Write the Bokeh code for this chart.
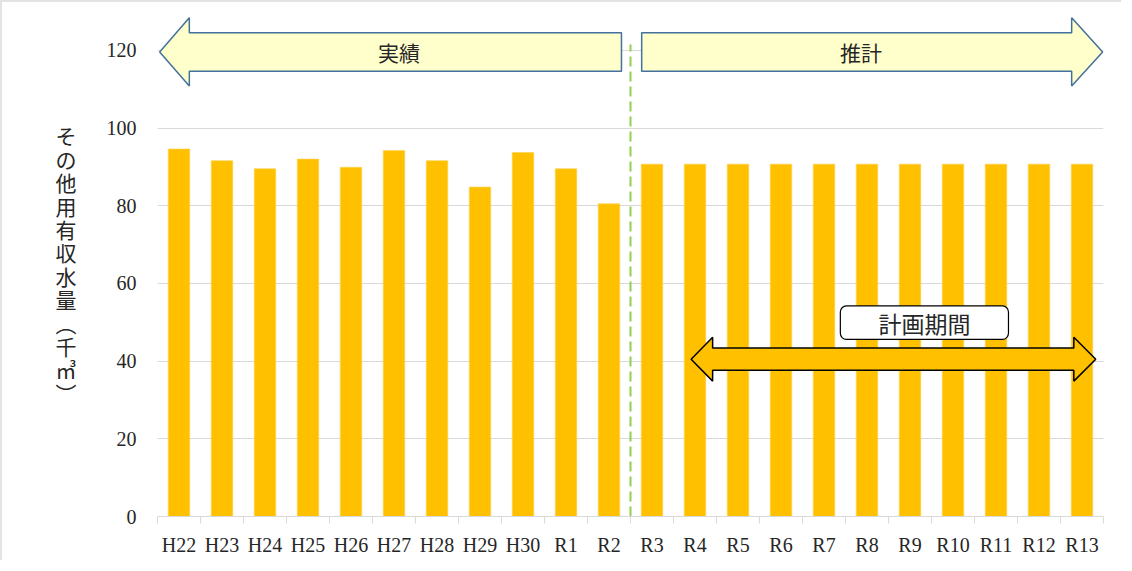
from bokeh.plotting import figure
from bokeh.models import FixedTicker, Range1d
from bokeh.embed import file_html
from bokeh.resources import INLINE
from bokeh.core.properties import value

# ---- data ----
categories = ["H22", "H23", "H24", "H25", "H26", "H27", "H28", "H29", "H30", "R1", "R2",
              "R3", "R4", "R5", "R6", "R7", "R8", "R9", "R10", "R11", "R12", "R13"]
values = [94.6, 91.6, 89.5, 92.0, 89.9, 94.2, 91.6, 84.8, 93.7, 89.5, 80.5,
          90.7, 90.7, 90.7, 90.7, 90.7, 90.7, 90.7, 90.7, 90.7, 90.7, 90.7]
y_ticks = [0, 20, 40, 60, 80, 100, 120]
y_label = "その他用有収水量（千㎥）"
label_actual = "実績"
label_forecast = "推計"
label_plan = "計画期間"
first_forecast = "R3"
first_plan = "R4"

JP = "Noto Sans CJK JP"
SERIF = "Liberation Serif"
TXT = "#262626"
GRID = "#d9d9d9"

xs = list(range(len(categories)))
n = len(categories)

p = figure(width=1121, height=560, x_range=Range1d(-0.5, n - 0.5), y_range=Range1d(0, 130),
           output_backend="svg", toolbar_location=None,
           min_border_left=155, min_border_right=20, min_border_top=9, min_border_bottom=46)
p.outline_line_color = None
p.styles = {"border-left": "2px solid #e3e3e3", "border-top": "2px solid #e3e3e3"}

# grid
p.xgrid.visible = False
p.ygrid.ticker = FixedTicker(ticks=y_ticks)
p.ygrid.grid_line_color = GRID
p.ygrid.grid_line_width = 1

# y axis
p.yaxis.ticker = FixedTicker(ticks=y_ticks)
p.yaxis.axis_line_color = None
p.yaxis.major_tick_line_color = None
p.yaxis.minor_tick_line_color = None
p.yaxis.major_label_text_font = SERIF
p.yaxis.major_label_text_font_size = "20px"
p.yaxis.major_label_text_color = TXT
p.yaxis.major_label_standoff = 15
# vertical (stacked) Japanese axis label
vert = y_label.replace("（", "︵").replace("）", "︶")
p.yaxis.axis_label = "\n".join(list(vert))
p.yaxis.axis_label_orientation = "horizontal"
p.yaxis.axis_label_text_font = JP
p.yaxis.axis_label_text_font_style = "normal"
p.yaxis.axis_label_text_font_size = "21px"
p.yaxis.axis_label_text_color = TXT
p.yaxis.axis_label_text_line_height = 0.78
p.yaxis.axis_label_standoff = 27

# x axis
p.xaxis.ticker = FixedTicker(ticks=xs, minor_ticks=[i - 0.5 for i in range(n + 1)])
p.xaxis.major_label_overrides = {i: c for i, c in zip(xs, categories)}
p.xaxis.major_tick_line_color = None
p.xaxis.minor_tick_line_color = GRID
p.xaxis.minor_tick_in = 0
p.xaxis.minor_tick_out = 7
p.xaxis.axis_line_color = GRID
p.xaxis.major_label_text_font = SERIF
p.xaxis.major_label_text_font_size = "20px"
p.xaxis.major_label_text_color = TXT
p.xaxis.major_label_standoff = 10

# bars
p.vbar(x=xs, top=values, width=0.5, fill_color="#FFC000", line_color="#FFD24D", line_width=0.6)

# divider between actual and forecast
split = categories.index(first_forecast) - 0.5
p.segment(x0=[split], y0=[0], x1=[split], y1=[121.5], line_color="#92D050",
          line_dash="10 5", line_width=2)


def arrow_left(tip, base, end, yc, sh, hh):
    return ([tip, base, base, end, end, base, base],
            [yc, yc + hh, yc + sh, yc + sh, yc - sh, yc - sh, yc - hh])


def arrow_right(start, base, tip, yc, sh, hh):
    return ([start, base, base, tip, base, base, start],
            [yc + sh, yc + sh, yc + hh, yc, yc - hh, yc - sh, yc - sh])


def arrow_double(ltip, lbase, rbase, rtip, yc, sh, hh):
    return ([ltip, lbase, lbase, rbase, rbase, rtip, rbase, rbase, lbase, lbase],
            [yc, yc + hh, yc + sh, yc + sh, yc + hh, yc, yc - hh, yc - sh, yc - sh, yc - hh])


yc_top = 119.6
ax, ay = arrow_left(-0.45, 0.24, split - 0.21, yc_top, 4.95, 8.8)
p.patch(ax, ay, fill_color="#FFFFCC", line_color="#41719C", line_width=1.5)
bx, by = arrow_right(split + 0.26, n - 1.24, n - 0.52, yc_top, 4.95, 8.8)
p.patch(bx, by, fill_color="#FFFFCC", line_color="#41719C", line_width=1.5)

p.text(x=[(0.24 + split - 0.21) / 2 - 0.15, (split + 0.26 + n - 1.24) / 2 + 0.1],
       y=[yc_top, yc_top], text=[label_actual, label_forecast],
       text_align="center", text_baseline="middle", text_font=value(JP),
       text_font_size="21px", text_color=TXT)

# planning period double arrow
plan_start = categories.index(first_plan) - 0.09
cx, cy = arrow_double(plan_start, plan_start + 0.5, n - 1.19, n - 0.68, 40.5, 2.85, 5.65)
p.patch(cx, cy, fill_color="#FFC000", line_color="#000000", line_width=1.5)

p.quad(left=[15.38], right=[19.29], bottom=[45.6], top=[54.2], fill_color="white",
       line_color="#000000", line_width=1.2, border_radius=6)
p.text(x=[17.34], y=[49.9], text=[label_plan], text_align="center", text_baseline="middle",
       text_font=value(JP), text_font_size="23px", text_color=TXT)

open("out.html", "w").write(file_html(p, INLINE))
